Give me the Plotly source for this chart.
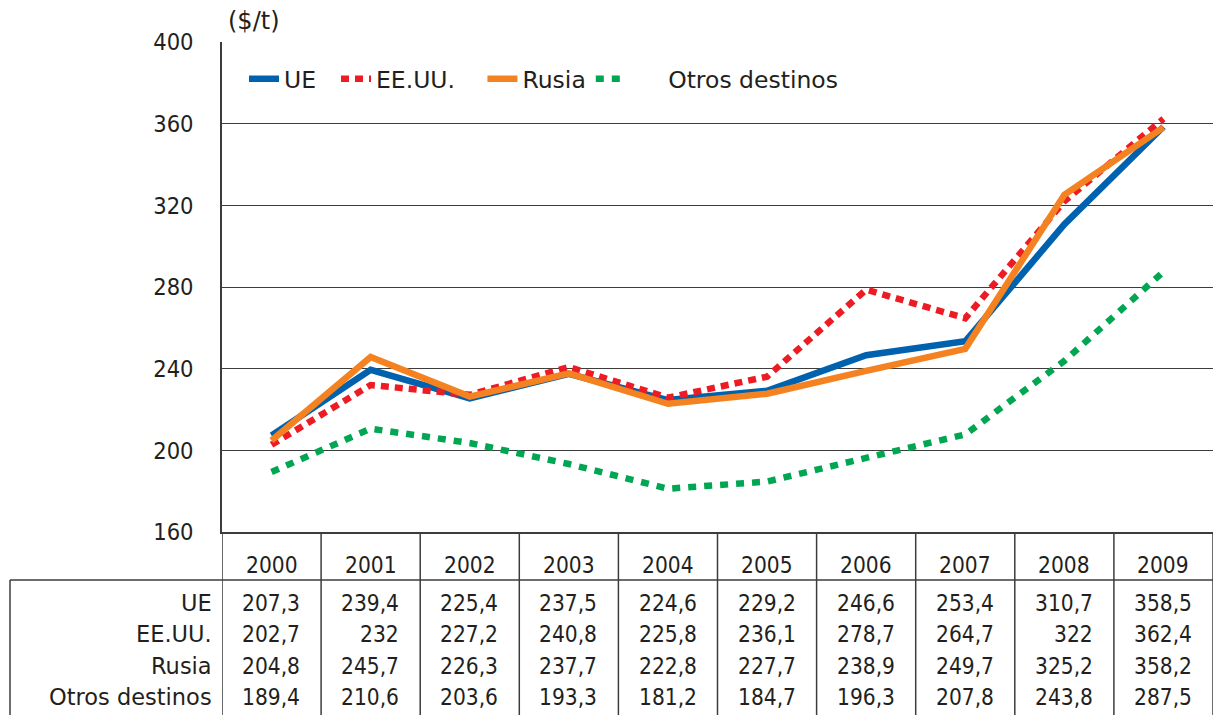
import plotly.graph_objects as go

years = ["2000", "2001", "2002", "2003", "2004", "2005", "2006", "2007", "2008", "2009"]
series_names = ["UE", "EE.UU.", "Rusia", "Otros destinos"]
ue = [207.3, 239.4, 225.4, 237.5, 224.6, 229.2, 246.6, 253.4, 310.7, 358.5]
eeuu = [202.7, 232, 227.2, 240.8, 225.8, 236.1, 278.7, 264.7, 322, 362.4]
rusia = [204.8, 245.7, 226.3, 237.7, 222.8, 227.7, 238.9, 249.7, 325.2, 358.2]
otros = [189.4, 210.6, 203.6, 193.3, 181.2, 184.7, 196.3, 207.8, 243.8, 287.5]
y_ticks = [160, 200, 240, 280, 320, 360, 400]
unit_label = "($/t)"

colors = ["#0061AE", "#ED1C24", "#F58220", "#00A651"]
dashes = ["solid", "8px,6px", "solid", "8px,8px"]
values = [ue, eeuu, rusia, otros]

W, H = 1213, 715
L, T, B = 222, 42, 183
plot_bottom = H - B
plot_h = plot_bottom - T
FONT = "DejaVu Sans"
FONT_C = "DejaVu Sans Condensed"
TXT = "#231F20"
LINE = "#3C3C3C"

x_idx = list(range(len(years)))

fig = go.Figure()
NB = "&nbsp;"
legend_names = ["UE" + NB * 2, "EE.UU." + NB * 3, "Rusia", NB * 5 + "Otros destinos"]
for name, lname, vals, c, d in zip(series_names, legend_names, values, colors, dashes):
    fig.add_trace(go.Scatter(
        x=x_idx, y=vals, mode="lines", name=lname,
        line=dict(color=c, width=6.5, dash=d),
        hoverinfo="y",
    ))

def py(Y):
    return (plot_bottom - Y) / plot_h

xl = (10 - L) / (W - L)
shapes = []
shapes.append(dict(type="line", xref="paper", yref="paper", x0=xl, x1=1,
                   y0=py(580), y1=py(580), line=dict(color=LINE, width=1.5)))
shapes.append(dict(type="line", xref="paper", yref="paper", x0=xl, x1=xl,
                   y0=py(580), y1=py(H), line=dict(color=LINE, width=1.5)))
for i in range(len(years) + 1):
    shapes.append(dict(type="line", xref="x", yref="paper", x0=i - 0.5, x1=i - 0.5,
                       y0=0, y1=py(H), line=dict(color=LINE, width=1.5)))

annotations = []
annotations.append(dict(text=unit_label, xref="paper", yref="paper", x=(226 - L) / (W - L), y=py(21),
                        xanchor="left", yanchor="middle", showarrow=False,
                        font=dict(family=FONT, size=24, color=TXT)))
for i, yr in enumerate(years):
    annotations.append(dict(text=yr, xref="x", yref="paper", x=i, y=py(565),
                            xanchor="center", yanchor="middle", showarrow=False,
                            font=dict(family=FONT_C, size=22.5, color=TXT)))
row_y = [603, 634, 666, 697]
for name, vals, ry in zip(series_names, values, row_y):
    annotations.append(dict(text=name, xref="paper", yref="paper", x=(214 - L) / (W - L), y=py(ry),
                            xanchor="right", yanchor="middle", showarrow=False,
                            font=dict(family=FONT, size=22.5, color=TXT)))
    for i, v in enumerate(vals):
        s = ("%g" % v).replace(".", ",")
        annotations.append(dict(text=s, xref="x", yref="paper", x=i + 0.5, xshift=-19, y=py(ry),
                                xanchor="right", yanchor="middle", showarrow=False,
                                font=dict(family=FONT_C, size=22.5, color=TXT)))

fig.update_layout(
    width=W, height=H,
    margin=dict(l=L, r=0, t=T, b=B, pad=0),
    paper_bgcolor="white", plot_bgcolor="white",
    font=dict(family=FONT, size=22, color=TXT),
    showlegend=True,
    legend=dict(orientation="h", x=(244 - L) / (W - L), y=py(79), xanchor="left", yanchor="middle",
                bgcolor="rgba(0,0,0,0)", font=dict(family=FONT, size=23.5, color=TXT),
                itemwidth=30, tracegroupgap=0),
    xaxis=dict(range=[-0.5, len(years) - 0.5], showticklabels=False, showgrid=False,
               zeroline=False, showline=True, linecolor=LINE, linewidth=1.5, ticks="", fixedrange=True),
    yaxis=dict(range=[160, 400], tickvals=y_ticks, showgrid=True, gridcolor=LINE, gridwidth=1.2,
               zeroline=False, showline=True, linecolor=LINE, linewidth=1.5, ticks="",
               ticklabelstandoff=22, tickfont=dict(family=FONT_C, size=23.5, color=TXT), fixedrange=True),
    shapes=shapes, annotations=annotations,
)

fig.write_html("out.html", config={"displayModeBar": False},
               post_script="document.body.style.margin='0';")
